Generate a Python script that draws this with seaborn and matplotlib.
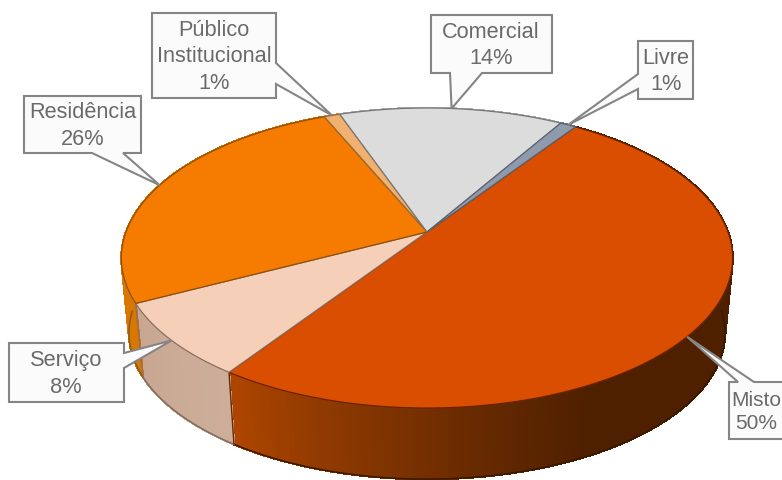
import numpy as np
import matplotlib
matplotlib.use("Agg")
import matplotlib.pyplot as plt
from matplotlib.patches import Polygon
from matplotlib.collections import PolyCollection
import seaborn as sns

# Land use shares, clockwise from the first slice
categories = ["Misto", "Serviço", "Residência", "Público\nInstitucional", "Comercial", "Livre"]
shares = [50, 8, 26, 1, 14, 1]

top_colors = ["#d94e00", "#f5cfb7", "#f57c00", "#f0b070", "#dcdcdc", "#8f9bad"]
edge_colors = ["#6b2200", "#8a6f60", "#8f4f10", "#9a6a30", "#777777", "#5c6470"]

# Colour stops along each slice's side wall, in clockwise order
wall_stops = [
    ["#4f2000"] * 7 + ["#6a2b00", "#8a3800", "#ad4500"],
    ["#cdae9a", "#cbab96", "#c8a691"],
    ["#d97700", "#d97700"],
    ["#c89050", "#c89050"],
    ["#b0b0b0", "#b0b0b0"],
    ["#707a88", "#707a88"],
]
rim_colors = ["#3a1800", "#7f6c60", "#8a5a20", "#8a6a40", "#808080", "#606870"]

# Pie geometry in axes units
START_ANGLE = 55.7
CENTER = (427.0, 232.0)
RADIUS_X, RADIUS_Y = 301.0, 145.5
TILT = 0.1734
DEPTH_SHIFT = 75.5
DEPTH_SCALE = 0.975

# Callout boxes: left, top, right, bottom, side carrying the tail, tail base, angle nudge, text centre x
callouts = [
    (729, 382, 800, 439, "top", (738, 754), -5.5, 756),
    (9, 343, 124, 402, "right", (353, 368), 0.0, 66),
    (24, 96, 141, 153, "bottom", (92, 123), 0.0, 83),
    (152, 13, 276, 98, "right", (63, 84), 0.0, 214),
    (431, 15, 552, 73, "bottom", (450, 482), 0.0, 491),
    (638, 41, 693, 99, "left", (74, 89), 0.0, 666),
]
label_sizes = [15.0, 15.7, 15.7, 15.7, 15.7, 15.7]


def project(angle_deg, lower=False):
    """Map an angle on the pie's rim to the tilted view, top or bottom face."""
    t = np.radians(angle_deg)
    u, v = np.cos(t), np.sin(t)
    w = 1 + TILT * v
    dx, dy = RADIUS_X * u / w, -RADIUS_Y * v / w
    if lower:
        return CENTER[0] + DEPTH_SCALE * dx, CENTER[1] + DEPTH_SHIFT + DEPTH_SCALE * dy
    return CENTER[0] + dx, CENTER[1] + dy


sns.set_theme(style="white")
plt.rcParams["font.family"] = ["Liberation Sans", "DejaVu Sans"]

fig = plt.figure(figsize=(7.82, 4.8), dpi=100)
ax = fig.add_axes([0, 0, 1, 1])
ax.set_xlim(0, 782)
ax.set_ylim(480, 0)
ax.axis("off")

spans = np.array(shares) / sum(shares) * 360.0
ends = START_ANGLE - np.cumsum(spans)
starts = ends + spans

for i, (a0, a1) in enumerate(zip(starts, ends)):
    steps = max(int(abs(a0 - a1) * 2), 2)
    angles = np.linspace(a0, a1, steps + 1)
    upper = np.array([project(a) for a in angles])
    lower = np.array([project(a, lower=True) for a in angles])

    # Side wall, built as thin quads so the colour can shift along the rim
    shades = sns.blend_palette(wall_stops[i], n_colors=steps)
    quads = [[upper[k], upper[k + 1], lower[k + 1], lower[k]] for k in range(steps)]
    ax.add_collection(PolyCollection(quads, facecolors=shades, edgecolors=shades,
                                     linewidths=1.0, antialiaseds=False, zorder=1))

    # Only the near part of the bottom rim is outlined, plus the seam closing the slice
    near = np.sin(np.radians(angles)) < -0.02
    if near.any():
        ax.plot(lower[near, 0], lower[near, 1], color=rim_colors[i], lw=1.1, zorder=1.2)
        if near[-1]:
            ax.plot([upper[-1, 0], lower[-1, 0]], [upper[-1, 1], lower[-1, 1]],
                    color=edge_colors[i], lw=1.0, zorder=1.3)

for i, (a0, a1) in enumerate(zip(starts, ends)):
    angles = np.linspace(a0, a1, max(int(abs(a0 - a1) * 2), 2) + 1)
    rim = [project(a) for a in angles]
    ax.add_patch(Polygon([CENTER] + rim, closed=True, facecolor=top_colors[i],
                         edgecolor=edge_colors[i], lw=0.9, zorder=2))

# Labelled callouts pointing at each slice
for i, (left, top, right, bottom, side, base, nudge, text_x) in enumerate(callouts):
    tip = project((starts[i] + ends[i]) / 2 + nudge)
    if side == "top":
        verts = [(left, top), (base[0], top), tip, (base[1], top), (right, top),
                 (right, bottom), (left, bottom)]
    elif side == "bottom":
        verts = [(left, top), (right, top), (right, bottom), (base[1], bottom), tip,
                 (base[0], bottom), (left, bottom)]
    elif side == "right":
        verts = [(left, top), (right, top), (right, base[0]), tip, (right, base[1]),
                 (right, bottom), (left, bottom)]
    else:
        verts = [(left, top), (right, top), (right, bottom), (left, bottom),
                 (left, base[1]), tip, (left, base[0])]
    ax.add_patch(Polygon(verts, closed=True, facecolor="#fbfbfb", edgecolor="#858585",
                         lw=1.5, zorder=3, joinstyle="miter"))
    ax.text(text_x, (top + bottom) / 2 + 1.5, f"{categories[i]}\n{shares[i]}%",
            ha="center", va="center", ma="center", fontsize=label_sizes[i], linespacing=1.33,
            color="#6a6a6a", zorder=4)

fig.savefig("out.png", dpi=100, facecolor="white")
